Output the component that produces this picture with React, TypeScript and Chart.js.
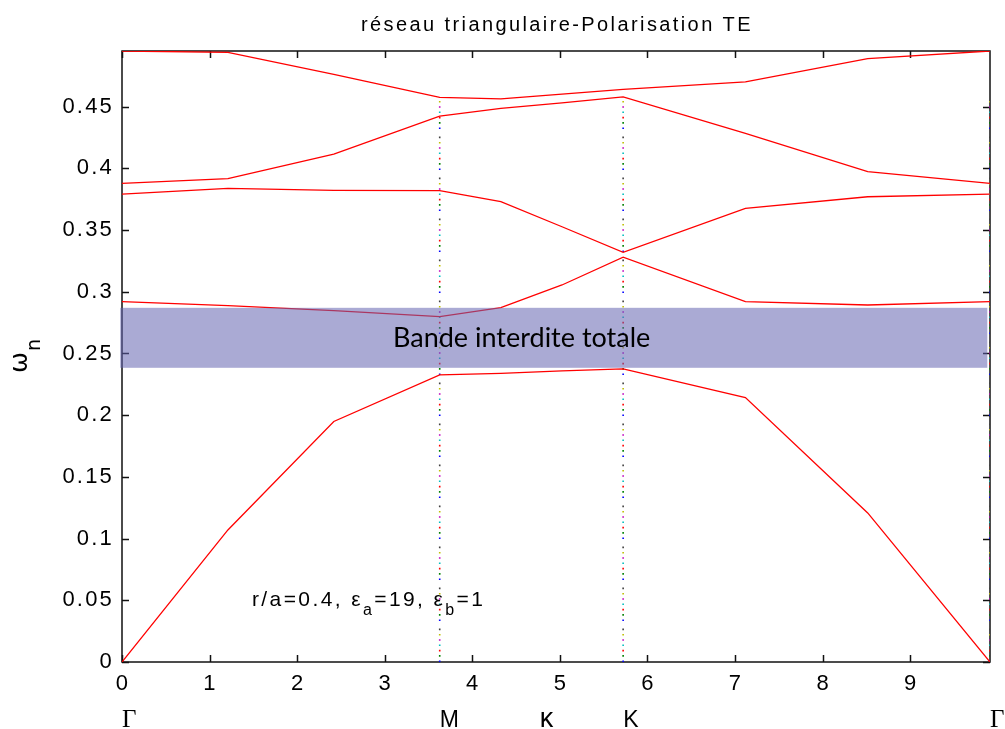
import React, { useEffect, useRef } from 'react';
import { Chart, registerables } from 'chart.js';

Chart.register(...registerables);

// k-path abscissa (Γ → M → K → Γ), sampled points
const kPath = [0, 1.2092, 2.4184, 3.6276, 4.3257, 5.0239, 5.722, 7.1183, 8.5145, 9.9108];

// normalized frequencies of the five TE bands
const band1 = [0, 0.107, 0.1949, 0.2327, 0.2339, 0.2359, 0.2376, 0.2143, 0.1208, 0];
const band2 = [0.292, 0.2888, 0.2848, 0.2799, 0.2872, 0.3055, 0.328, 0.292, 0.2893, 0.292];
const band3 = [0.3792, 0.3838, 0.3822, 0.3819, 0.373, 0.3527, 0.332, 0.3676, 0.377, 0.3792];
const band4 = [0.3878, 0.3917, 0.4115, 0.4423, 0.4486, 0.4531, 0.458, 0.4283, 0.3973, 0.3878];
const band5 = [0.4951, 0.494, 0.4761, 0.4575, 0.4563, 0.4601, 0.464, 0.4701, 0.489, 0.4951];
const bands = [band1, band2, band3, band4, band5];

// axes
const xMax = 9.9108;
const yMax = 0.4951;
const xTickValues = [0, 1, 2, 3, 4, 5, 6, 7, 8, 9];
const xTickLabels = ['0', '1', '2', '3', '4', '5', '6', '7', '8', '9'];
const yTickValues = [0, 0.05, 0.1, 0.15, 0.2, 0.25, 0.3, 0.35, 0.4, 0.45];
const yTickLabels = ['0', '0.05', '0.1', '0.15', '0.2', '0.25', '0.3', '0.35', '0.4', '0.45'];

// symmetry points
const symmetryLabels = ['Γ', 'M', 'κ', 'K', 'Γ'];
const symmetryLabelX = [0, 3.6276, 4.77, 5.722, 9.9108];
const symmetryLineX = [3.6276, 5.722, 9.9108];
const symmetryLineTop = 0.457;
const dotColors = ['#0000ff', '#008000', '#ff0000', '#00bfbf', '#bf00bf', '#bfbf00', '#404040'];

// complete photonic band gap
const gapRange = [0.2384, 0.287];
const gapXRange = [-0.02, 9.88];

const titleText = 'réseau triangulaire-Polarisation TE';
const gapText = 'Bande interdite totale';

const overlayPlugin = {
  id: 'overlay',
  beforeDatasetsDraw(chart: any) {
    const { ctx, chartArea: a, scales } = chart;
    const x = scales.x;
    const y = scales.y;
    ctx.save();
    // frame
    ctx.strokeStyle = '#111';
    ctx.lineWidth = 1.5;
    ctx.strokeRect(a.left, a.top, a.right - a.left, a.bottom - a.top);
    // inward ticks
    ctx.lineWidth = 1.5;
    ctx.beginPath();
    xTickValues.forEach((v) => {
      const px = Math.round(x.getPixelForValue(v)) + 0.5;
      ctx.moveTo(px, a.bottom);
      ctx.lineTo(px, a.bottom - 7);
      ctx.moveTo(px, a.top);
      ctx.lineTo(px, a.top + 7);
    });
    yTickValues.forEach((v) => {
      const py = Math.round(y.getPixelForValue(v)) + 0.5;
      ctx.moveTo(a.left, py);
      ctx.lineTo(a.left + 7, py);
      ctx.moveTo(a.right, py);
      ctx.lineTo(a.right - 7, py);
    });
    ctx.stroke();

    ctx.fillStyle = '#000';
    (ctx as any).letterSpacing = '2.2px';
    ctx.font = '22px "Liberation Sans", Arial, sans-serif';
    // x tick labels
    ctx.textAlign = 'center';
    ctx.textBaseline = 'alphabetic';
    xTickValues.forEach((v, i) => {
      ctx.fillText(xTickLabels[i], x.getPixelForValue(v) + 1, a.bottom + 28);
    });
    // y tick labels
    ctx.textAlign = 'right';
    ctx.textBaseline = 'middle';
    yTickValues.forEach((v, i) => {
      ctx.fillText(yTickLabels[i], a.left - 8, y.getPixelForValue(v));
    });
    // symmetry labels
    ctx.textAlign = 'left';
    ctx.textBaseline = 'alphabetic';
    (ctx as any).letterSpacing = '0px';
    symmetryLabels.forEach((s, i) => {
      if (s === 'Γ') ctx.font = '25px "Liberation Serif", serif';
      else if (s === 'κ') ctx.font = '27px "Liberation Sans", Arial, sans-serif';
      else ctx.font = '23px "Liberation Sans", Arial, sans-serif';
      ctx.fillText(s, x.getPixelForValue(symmetryLabelX[i]), a.bottom + 65);
    });
    // title
    ctx.font = '20px "Liberation Sans", Arial, sans-serif';
    (ctx as any).letterSpacing = '2.4px';
    ctx.textAlign = 'center';
    ctx.fillText(titleText, (a.left + a.right) / 2 + 1, 31);
    // y axis label ω_n
    (ctx as any).letterSpacing = '0px';
    ctx.save();
    ctx.translate(27, 373);
    ctx.rotate(-Math.PI / 2);
    ctx.textAlign = 'left';
    ctx.font = '25px "DejaVu Sans", sans-serif';
    ctx.fillText('ω', 0, 0);
    const w = ctx.measureText('ω').width;
    ctx.font = '19px "DejaVu Sans", sans-serif';
    ctx.fillText('n', w + 1, 13);
    ctx.restore();
    ctx.restore();
  },
  afterDatasetsDraw(chart: any) {
    const { ctx, scales } = chart;
    const x = scales.x;
    const y = scales.y;
    ctx.save();
    // band gap rectangle
    const x0 = x.getPixelForValue(gapXRange[0]);
    const x1 = x.getPixelForValue(gapXRange[1]);
    const yTop = y.getPixelForValue(gapRange[1]);
    const yBot = y.getPixelForValue(gapRange[0]);
    ctx.fillStyle = 'rgba(100,100,176,0.55)';
    ctx.fillRect(x0, yTop, x1 - x0, yBot - yTop);
    // band gap text
    ctx.fillStyle = '#000';
    ctx.font = '27px Lato, "Open Sans", sans-serif';
    ctx.textAlign = 'center';
    ctx.textBaseline = 'alphabetic';
    ctx.fillText(gapText, x.getPixelForValue(4.563), y.getPixelForValue(0.2556), 262);
    // parameter annotation
    const parts = [
      { t: 'r/a=0.4, ε', sub: false },
      { t: 'a', sub: true },
      { t: '=19, ε', sub: false },
      { t: 'b', sub: true },
      { t: '=1', sub: false },
    ];
    let px = x.getPixelForValue(1.484);
    const py = y.getPixelForValue(0.0452);
    ctx.textAlign = 'left';
    (ctx as any).letterSpacing = '2.4px';
    parts.forEach((p) => {
      ctx.font = p.sub ? '16px "Liberation Sans", Arial, sans-serif' : '21px "Liberation Sans", Arial, sans-serif';
      ctx.fillText(p.t, px, py + (p.sub ? 9 : 0));
      px += ctx.measureText(p.t).width;
    });
    ctx.restore();
  },
};

export default function App() {
  const canvasRef = useRef<HTMLCanvasElement | null>(null);

  useEffect(() => {
    if (!canvasRef.current) return;
    const datasets: any[] = bands.map((b) => ({
      data: kPath.map((k, i) => ({ x: k, y: b[i] })),
      borderColor: '#ff0000',
      borderWidth: 1.3,
      pointRadius: 0,
      showLine: true,
      fill: false,
      tension: 0,
    }));
    symmetryLineX.forEach((sx) => {
      dotColors.forEach((c, i) => {
        datasets.push({
          data: [
            { x: sx, y: 0 },
            { x: sx, y: symmetryLineTop },
          ],
          borderColor: c,
          borderWidth: 1.6,
          borderDash: [1.6, 39.4],
          borderDashOffset: -i * 5.3,
          pointRadius: 0,
          showLine: true,
          fill: false,
        });
      });
    });

    const chart = new Chart(canvasRef.current, {
      type: 'scatter',
      data: { datasets },
      options: {
        animation: false,
        responsive: false,
        maintainAspectRatio: false,
        layout: { padding: { left: 122, right: 15, top: 51, bottom: 67 } },
        plugins: { legend: { display: false }, tooltip: { enabled: false } },
        scales: {
          x: { type: 'linear', min: 0, max: xMax, display: false },
          y: { type: 'linear', min: 0, max: yMax, display: false },
        },
      },
      plugins: [overlayPlugin],
    } as any);
    return () => chart.destroy();
  }, []);

  return (
    <div style={{ position: 'fixed', left: 0, top: 0, width: 1005, height: 729, background: '#fff' }}>
      <canvas ref={canvasRef} width={1005} height={729} />
    </div>
  );
}
